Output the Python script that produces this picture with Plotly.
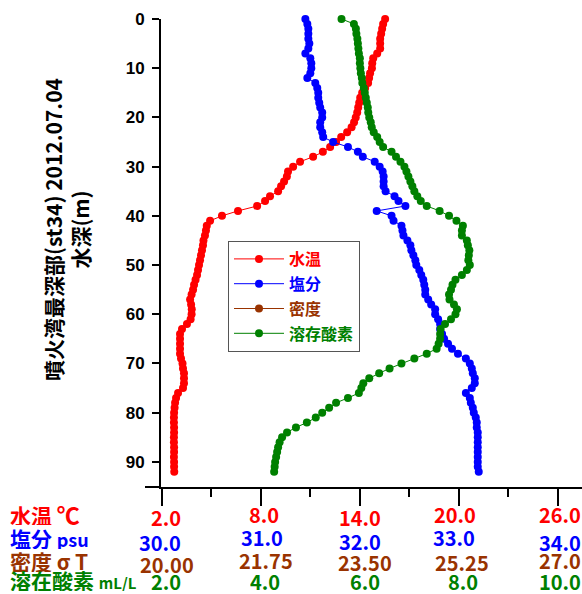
import plotly.graph_objects as go

# ---------------- data ----------------
depth = list(range(0, 93))

temperature = [
    15.53, 15.41, 15.35, 15.29, 15.23, 15.23, 15.23, 15.05, 14.81, 14.75,
    14.73, 14.62, 14.56, 14.50, 14.32, 14.14, 14.02, 13.96, 13.90, 13.84,
    13.75, 13.65, 13.50, 13.23, 12.87, 12.56, 12.20, 11.76, 11.17, 10.38,
    9.96, 9.65, 9.58, 9.41, 9.23, 9.05, 8.56, 8.26, 7.78, 6.62,
    5.65, 4.93, 4.73, 4.68, 4.62, 4.53, 4.50, 4.44, 4.38, 4.32,
    4.26, 4.20, 4.14, 4.05, 3.96, 3.90, 3.81, 3.72, 3.78, 3.82,
    3.81, 3.75, 3.53, 3.23, 3.11, 3.11, 3.11, 3.11, 3.11, 3.17,
    3.26, 3.29, 3.35, 3.35, 3.35, 3.29, 2.99, 2.87, 2.81, 2.78,
    2.75, 2.74, 2.74, 2.75, 2.75, 2.74, 2.74, 2.75, 2.75, 2.74,
    2.75, 2.75, 2.76,
]

salinity = [
    31.45, 31.47, 31.48, 31.48, 31.48, 31.49, 31.48, 31.45, 31.50, 31.51,
    31.51, 31.50, 31.47, 31.55, 31.57, 31.58, 31.58, 31.59, 31.60, 31.62,
    31.62, 31.60, 31.60, 31.62, 31.63, 31.73, 31.88, 31.98, 32.03, 32.15,
    32.20, 32.23, 32.24, 32.24, 32.24, 32.26, 32.35, 32.39, 32.46, 32.17,
    32.32, 32.34, 32.42, 32.43, 32.44, 32.48, 32.51, 32.52, 32.54, 32.56,
    32.57, 32.60, 32.62, 32.64, 32.65, 32.66, 32.66, 32.69, 32.72, 32.76,
    32.76, 32.79, 32.81, 32.81, 32.83, 32.85, 32.89, 32.93, 32.99, 33.07,
    33.11, 33.13, 33.14, 33.16, 33.16, 33.13, 33.07, 33.11, 33.12, 33.14,
    33.15, 33.17, 33.18, 33.18, 33.19, 33.19, 33.19, 33.19, 33.19, 33.19,
    33.19, 33.19, 33.20,
]

density = []          # 密度: listed in the legend, no points drawn
density_depth = []

dissolved_oxygen = [
    5.63, 5.88, 5.92, 5.93, 5.95, 5.96, 5.97, 5.98, 6.00, 6.00,
    6.01, 6.02, 6.04, 6.05, 6.08, 6.10, 6.12, 6.14, 6.16, 6.17,
    6.19, 6.22, 6.24, 6.28, 6.35, 6.40, 6.47, 6.64, 6.73, 6.82,
    6.90, 6.94, 6.98, 7.02, 7.06, 7.10, 7.16, 7.23, 7.35, 7.61,
    7.80, 7.95, 8.08, 8.06, 8.06, 8.16, 8.18, 8.21, 8.20, 8.19,
    8.22, 8.16, 8.06, 7.93, 7.87, 7.84, 7.80, 7.81, 7.90, 7.96,
    7.93, 7.84, 7.72, 7.63, 7.62, 7.62, 7.59, 7.55, 7.35, 7.10,
    6.84, 6.60, 6.39, 6.19, 6.07, 6.03, 5.98, 5.76, 5.52, 5.38,
    5.24, 5.11, 4.93, 4.71, 4.53, 4.43, 4.38, 4.35, 4.33, 4.31,
    4.29, 4.28, 4.27,
]

temp_ticks = [2.0, 8.0, 14.0, 20.0, 26.0]
temp_labels = ["2.0", "8.0", "14.0", "20.0", "26.0"]
sal_ticks = [30.0, 31.0, 32.0, 33.0, 34.0]
sal_labels = ["30.0", "31.0", "32.0", "33.0", "34.0"]
dens_ticks = [20.00, 21.75, 23.50, 25.25, 27.0]
dens_labels = ["20.00", "21.75", "23.50", "25.25", "27.0"]
do_ticks = [2.0, 4.0, 6.0, 8.0, 10.0]
do_labels = ["2.0", "4.0", "6.0", "8.0", "10.0"]
minor_ticks = [5.0, 11.0, 17.0, 23.0]
depth_ticks = [0, 10, 20, 30, 40, 50, 60, 70, 80, 90]

# ---------------- style / layout geometry ----------------
RED, BLUE, BROWN, GREEN = "#FF0000", "#0000FF", "#993300", "#008000"
JP = "Noto Sans CJK JP"
W, H = 582, 594
L, R, T, B = 161, 0, 19, 107
PW, PH = W - L - R, H - T - B
FIRST_TICK_PX, LAST_TICK_PX = 161.7, 558.0


def axis_range(first, last):
    per_px = (last - first) / (LAST_TICK_PX - FIRST_TICK_PX)
    return [first + (L - FIRST_TICK_PX) * per_px, first + (W - R - FIRST_TICK_PX) * per_px]


def px_to_paper_y(ypx):
    return (H - B - ypx) / PH


def px_to_paper_x(xpx):
    return (xpx - L) / PW


temp_range = axis_range(temp_ticks[0], temp_ticks[-1])
sal_range = axis_range(sal_ticks[0], sal_ticks[-1])
dens_range = axis_range(dens_ticks[0], dens_ticks[-1])
do_range = axis_range(do_ticks[0], do_ticks[-1])
depth_range = [95.1, 0]


def legend_name(txt, color):
    return f'<span style="color:{color}"><b>{txt}</b></span>'


fig = go.Figure()
fig.add_trace(go.Scatter(x=temperature, y=depth, mode="lines+markers",
                         name=legend_name("水温", RED), legendgroup="a",
                         line=dict(color=RED, width=1), marker=dict(color=RED, size=8),
                         xaxis="x", yaxis="y", cliponaxis=False))
fig.add_trace(go.Scatter(x=salinity, y=depth, mode="lines+markers",
                         name=legend_name("塩分", BLUE), legendgroup="b",
                         line=dict(color=BLUE, width=1), marker=dict(color=BLUE, size=8),
                         xaxis="x2", yaxis="y", cliponaxis=False))
fig.add_trace(go.Scatter(x=density if density else [None],
                         y=density_depth if density_depth else [None],
                         mode="lines+markers",
                         name=legend_name("密度", BROWN), legendgroup="c",
                         line=dict(color=BROWN, width=1), marker=dict(color=BROWN, size=8),
                         xaxis="x3", yaxis="y"))
fig.add_trace(go.Scatter(x=dissolved_oxygen, y=depth, mode="lines+markers",
                         name=legend_name("溶存酸素", GREEN), legendgroup="d",
                         line=dict(color=GREEN, width=1), marker=dict(color=GREEN, size=8),
                         xaxis="x4", yaxis="y", cliponaxis=False))

common_x = dict(showgrid=False, zeroline=False, showticklabels=False, fixedrange=True)

fig.update_layout(
    width=W, height=H, autosize=False,
    margin=dict(l=L, r=R, t=T, b=B, pad=0),
    paper_bgcolor="white", plot_bgcolor="white",
    showlegend=True,
    legend=dict(x=px_to_paper_x(228), y=px_to_paper_y(241), xanchor="left", yanchor="top",
                bgcolor="white", bordercolor="#555555", borderwidth=1,
                font=dict(family=JP, size=16), tracegroupgap=1, itemwidth=50,
                traceorder="grouped"),
    xaxis=dict(range=temp_range, anchor="y", side="bottom",
               tickmode="array", tickvals=temp_ticks, ticks="outside",
               ticklen=17, tickwidth=2, tickcolor="black",
               minor=dict(tickmode="array", tickvals=minor_ticks, ticks="outside",
                          ticklen=8, tickwidth=1.5, tickcolor="black"),
               showline=True, linewidth=2, linecolor="black", **common_x),
    xaxis5=dict(range=temp_range, anchor="y", side="bottom", overlaying="x",
                tickmode="array", tickvals=temp_ticks, ticks="inside",
                ticklen=17, tickwidth=2, tickcolor="black",
                minor=dict(tickmode="array", tickvals=minor_ticks, ticks="inside",
                           ticklen=8, tickwidth=1.5, tickcolor="black"),
                showline=False, **common_x),
    xaxis2=dict(range=sal_range, overlaying="x", anchor="y", visible=False),
    xaxis3=dict(range=dens_range, overlaying="x", anchor="y", visible=False),
    xaxis4=dict(range=do_range, overlaying="x", anchor="y", visible=False),
    yaxis=dict(range=depth_range, anchor="x",
               tickmode="array", tickvals=depth_ticks, ticks="outside",
               ticklen=7, tickwidth=1.5, tickcolor="black",
               ticklabelstandoff=4,
               tickfont=dict(family="Liberation Sans", size=17, color="black", weight="bold"),
               showline=True, linewidth=2, linecolor="black",
               showgrid=False, zeroline=False, fixedrange=True),
    yaxis2=dict(range=depth_range, anchor="x", overlaying="y",
                tickmode="array", tickvals=depth_ticks, ticks="inside",
                ticklen=7, tickwidth=1.5, tickcolor="black",
                showticklabels=False, showline=False,
                showgrid=False, zeroline=False, fixedrange=True),
)

# extend the horizontal axis line a little to the left of the depth axis
fig.add_shape(type="line", xref="paper", yref="paper",
              x0=px_to_paper_x(145), x1=0, y0=0, y1=0,
              line=dict(color="black", width=2))

annotations = []
# rotated depth-axis title
annotations.append(dict(
    text="<b>噴火湾最深部(st34) 2012.07.04<br>水深(m)</b>",
    xref="paper", yref="paper", x=px_to_paper_x(67), y=px_to_paper_y(230),
    xanchor="center", yanchor="middle", textangle=-90, showarrow=False,
    font=dict(family=JP, size=21, color="black"),
))

# row labels under the axis
row_labels = [
    ('<b>水温 <span style="font-size:23px">℃</span></b>', RED, 514),
    ('<b>塩分 <span style="font-size:18px">psu</span></b>', BLUE, 538),
    ('<b>密度 σ T</b>', BROWN, 561),
    ('<b>溶在酸素 <span style="font-size:15px">mL/L</span></b>', GREEN, 580),
]
for txt, col, ypx in row_labels:
    annotations.append(dict(text=txt, xref="paper", yref="paper",
                            x=px_to_paper_x(8), y=px_to_paper_y(ypx),
                            xanchor="left", yanchor="middle", showarrow=False,
                            height=22, valign="middle",
                            font=dict(family=JP, size=21, color=col)))

# value rows (positioned through each variable's own axis)
rows = [
    ("x", temp_ticks, temp_labels, RED, [4, 3, 0, -4, 2], [517, 514, 517, 514, 514]),
    ("x2", sal_ticks, sal_labels, BLUE, [-1.5, 1.5, 0, -5, 2], [542, 537, 541, 537, 542]),
    ("x3", dens_ticks, dens_labels, BROWN, [5, 5.5, 5, 3, 2], [564, 560, 562, 562, 560]),
    ("x4", do_ticks, do_labels, GREEN, [4.5, 4.5, 5, 4, 2], [581, 581, 581, 581, 581]),
]
for xref, vals, labs, col, shifts, ys in rows:
    for v, lab, sh, ypx in zip(vals, labs, shifts, ys):
        annotations.append(dict(text=f"<b>{lab}</b>", xref=xref, yref="paper",
                                x=v, y=px_to_paper_y(ypx), xshift=sh,
                                xanchor="center", yanchor="middle", showarrow=False,
                                height=20, valign="middle",
                                font=dict(family=JP, size=20, color=col)))

fig.update_layout(annotations=annotations)

fig.write_html("out.html",
               config={"displayModeBar": False},
               post_script="document.body.style.margin='0px';"
                           "document.documentElement.style.overflow='hidden';")
